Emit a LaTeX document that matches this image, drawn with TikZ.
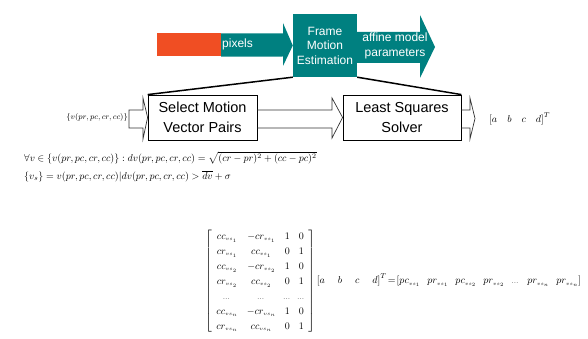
\documentclass[tikz,border=0pt]{standalone}
\usepackage{amsmath}
\usepackage{fontspec}
\setmainfont{Liberation Serif}
\newfontfamily\labelfont{Liberation Sans}
\usetikzlibrary{calc}
\definecolor{fmeteal}{RGB}{0,128,128}
\definecolor{srcorange}{RGB}{240,78,35}
\newcommand{\vsub}[1]{_{\scriptscriptstyle vs_{#1}}}
\newcommand{\rowdots}{\makebox[0pt]{$\scriptstyle\dots$}}

\begin{document}
\begin{tikzpicture}[x=1pt, y=-1pt,
	tealnode/.style={fill=fmeteal, text=white, font=\labelfont\fontsize{12}{14.5}\selectfont, align=center, inner sep=0pt},
	stagebox/.style={draw=black, line width=0.8pt, fill=white, font=\labelfont\fontsize{14.5}{20}\selectfont, align=center, minimum height=45pt, inner sep=0pt},
	hollowarrow/.style={draw=black!80, line width=0.7pt},
	eqnode/.style={font=\fontsize{9.7}{13}\selectfont, inner sep=0pt}]
		\useasboundingbox (0,0) rectangle (588,339);
		\node[fill=srcorange, minimum width=64pt, minimum height=23pt, inner sep=0pt]	(src) at (189,45)	{};
		\node[tealnode, minimum width=64pt, minimum height=63pt]	(fme) at (325,45.5)	{Frame\\Motion\\Estimation};
		\node[stagebox, minimum width=109pt]	(sel) at (202.5,117.5)	{Select Motion\\Vector Pairs};
		\node[stagebox, minimum width=118pt]	(lsq) at (402,117.5)	{Least Squares\\Solver};
		
		\fill[fmeteal] (src.north east) -- (283,33.5) -- (283,23) -- (fme.west) -- (283,66) -- (283,56.5) -- (src.south east) -- cycle;
		\fill[fmeteal] (fme.east |- 0,32) -- (420,32) -- (420,15) -- (435,47) -- (420,78) -- (420,63) -- (fme.east |- 0,63) -- cycle;
		\node[tealnode, fill=none, anchor=west]	(pix) at (222,44.5)	{pixels};
		\node[tealnode, fill=none]	(affine) at (395,46)	{affine model\\parameters};
		
		\draw[line width=1.5pt] (fme.south west) -- (sel.north west);
		\draw[line width=1.5pt] (fme.south east) -- (lsq.north east);
		
		\draw[hollowarrow] (129,110) -- (143,110) -- (143,98) -- (sel.west) -- (143,139) -- (143,128) -- (129,128) -- cycle;
		\draw[hollowarrow] (sel.east |- 0,110) -- (332,110) -- (332,98) -- (lsq.west) -- (332,138) -- (332,128) -- (sel.east |- 0,128);
		\draw[hollowarrow] (lsq.east |- 0,110) -- (470,110) -- (470,98) -- (475,118.5) -- (470,139) -- (470,128) -- (lsq.east |- 0,128);
		
		\node[eqnode, anchor=east, font=\fontsize{8}{9}\selectfont]	(vin) at (128,118)	{$\{v(pr,pc,cr,cc)\}$};
		\node[eqnode, anchor=west, font=\fontsize{10}{12}\selectfont]	(vout) at (489,119)	{$\left[a\quad b\quad c\quad d\right]^T$};
		
		\node[eqnode, anchor=west]	(cond) at (24,158)	{$\forall v\in\{v(pr,pc,cr,cc)\}: dv(pr,pc,cr,cc)=\sqrt{(cr-pr)^2+(cc-pc)^2}$};
		\node[eqnode, anchor=west]	(vsel) at (24,176)	{$\{v_s\}=v(pr,pc,cr,cc)|dv(pr,pc,cr,cc)>\overline{dv}+\sigma$};
		
		\node[eqnode, anchor=west, font=\fontsize{10}{15}\selectfont, inner xsep=0pt]	(lsqeq) at (205,281)	{$\arraycolsep=4.5pt\left[\begin{array}{cccc}
			cc\vsub1 & -cr\vsub1 & 1 & 0\\
			cr\vsub1 & cc\vsub1 & 0 & 1\\
			cc\vsub2 & -cr\vsub2 & 1 & 0\\
			cr\vsub2 & cc\vsub2 & 0 & 1\\
			\rowdots & \rowdots & \rowdots & \rowdots\\
			cc\vsub n & -cr\vsub n & 1 & 0\\
			cr\vsub n & cc\vsub n & 0 & 1
			\end{array}\right]\left[a\hspace{13pt}b\hspace{13pt}c\hspace{13pt}d\right]^T\!=\!\left[pc\vsub1\hspace{7pt}pr\vsub1\hspace{7pt}pc\vsub2\hspace{7pt}pr\vsub2\hspace{7pt}\scriptstyle\dots\displaystyle\hspace{7pt}pr\vsub n\hspace{7pt}pr\vsub n\right]$};
		
		\end{tikzpicture}
\end{document}
